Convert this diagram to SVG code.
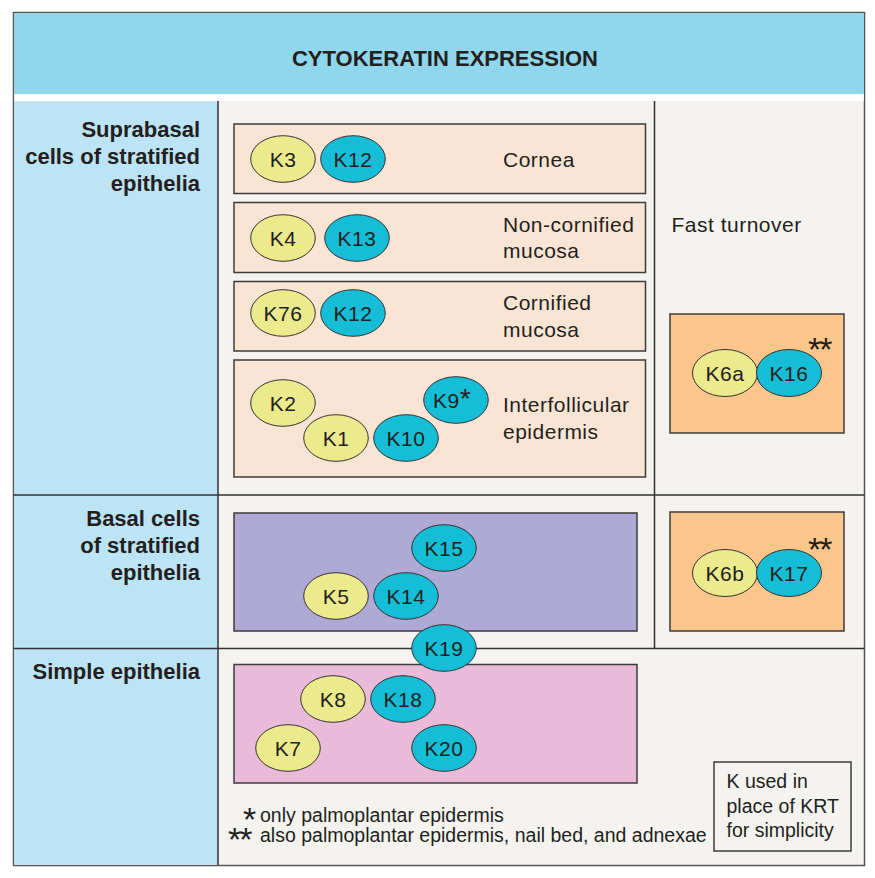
<svg xmlns="http://www.w3.org/2000/svg" width="875" height="878" viewBox="0 0 875 878">
<style>
text{font-family:"Liberation Sans",Arial,Helvetica,sans-serif;fill:#231f20}
.title{font-size:22px;font-weight:bold;text-anchor:middle}
.side{font-size:22px;font-weight:bold;text-anchor:end}
.lbl{font-size:21px;letter-spacing:0.5px}
.k{font-size:21px;letter-spacing:0.5px;text-anchor:middle}
.note{font-size:19.5px}
.star{font-size:34px;letter-spacing:-2px}
.box{stroke:#3c3c3c;stroke-width:1.5}
.peach{fill:#fae5d4}
.orange{fill:#fbc68b}
.purple{fill:#aeaad5}
.pink{fill:#e9bbd8}
.y{fill:#ebeb8e;stroke:#333;stroke-width:1}
.c{fill:#15bdd6;stroke:#333;stroke-width:1}
.grid{stroke:#333;stroke-width:1.5;fill:none}
</style>
<rect x="0" y="0" width="875" height="878" fill="#ffffff"/>
<g id="frame">
<rect x="13.5" y="12.5" width="851" height="853" fill="#f4f3ef" stroke="#555" stroke-width="1.5"/>
<rect x="14.2" y="13.2" width="849.6" height="81" fill="#8fd7ec"/>
<rect x="14.2" y="94.2" width="849.6" height="7" fill="#ffffff"/>
<rect x="14.2" y="101.2" width="203.8" height="763.6" fill="#bde4f4"/>
</g>
<g id="title"><text class="title" x="445" y="66">CYTOKERATIN EXPRESSION</text></g>
<g id="grid-lines" class="grid">
<line x1="218" y1="101" x2="218" y2="865"/>
<line x1="654.5" y1="101" x2="654.5" y2="648.5"/>
<line x1="13.5" y1="495" x2="864.5" y2="495"/>
<line x1="13.5" y1="648.5" x2="864.5" y2="648.5"/>
</g>
<g id="row-labels">
<text class="side" x="200" y="137">Suprabasal</text>
<text class="side" x="200" y="164">cells of stratified</text>
<text class="side" x="200" y="191">epithelia</text>
<text class="side" x="200" y="526">Basal cells</text>
<text class="side" x="200" y="553">of stratified</text>
<text class="side" x="200" y="580">epithelia</text>
<text class="side" x="200" y="679">Simple epithelia</text>
</g>
<g id="cornea">
<rect class="box peach" x="234" y="124" width="411.5" height="69.5"/>
<ellipse class="y" cx="283" cy="159" rx="32.3" ry="23.3"/><text class="k" x="283" y="166.5">K3</text>
<ellipse class="c" cx="353" cy="159" rx="32.3" ry="23.3"/><text class="k" x="353" y="166.5">K12</text>
<text class="lbl" x="503" y="167">Cornea</text>
</g>
<g id="non-cornified-mucosa">
<rect class="box peach" x="234" y="202.5" width="411.5" height="70"/>
<ellipse class="y" cx="283" cy="238" rx="32.3" ry="23.3"/><text class="k" x="283" y="245.5">K4</text>
<ellipse class="c" cx="357" cy="238" rx="32.3" ry="23.3"/><text class="k" x="357" y="245.5">K13</text>
<text class="lbl" x="503" y="232">Non-cornified</text>
<text class="lbl" x="503" y="258">mucosa</text>
</g>
<g id="cornified-mucosa">
<rect class="box peach" x="234" y="281.5" width="411.5" height="69.5"/>
<ellipse class="y" cx="283" cy="313" rx="32.3" ry="23.3"/><text class="k" x="283" y="320.5">K76</text>
<ellipse class="c" cx="353" cy="313" rx="32.3" ry="23.3"/><text class="k" x="353" y="320.5">K12</text>
<text class="lbl" x="503" y="310">Cornified</text>
<text class="lbl" x="503" y="336.5">mucosa</text>
</g>
<g id="interfollicular-epidermis">
<rect class="box peach" x="234" y="360" width="411.5" height="117"/>
<ellipse class="y" cx="283" cy="403" rx="32.3" ry="23.3"/><text class="k" x="283" y="410.5">K2</text>
<ellipse class="y" cx="336" cy="438" rx="32.3" ry="23.3"/><text class="k" x="336" y="445.5">K1</text>
<ellipse class="c" cx="406" cy="438" rx="32.3" ry="23.3"/><text class="k" x="406" y="445.5">K10</text>
<ellipse class="c" cx="456" cy="400" rx="32.3" ry="23.3"/><text class="k" x="452" y="407.5">K9<tspan style="font-size:28px">*</tspan></text>
<text class="lbl" x="503" y="412">Interfollicular</text>
<text class="lbl" x="503" y="438.5">epidermis</text>
</g>
<g id="fast-turnover">
<text class="lbl" x="671.5" y="231.5">Fast turnover</text>
</g>
<g id="k6a-k16">
<rect class="box orange" x="670" y="314" width="174" height="119"/>
<ellipse class="y" cx="725" cy="373" rx="32.5" ry="23.5"/><text class="k" x="725" y="380.5">K6a</text>
<ellipse class="c" cx="789" cy="373" rx="32.5" ry="23.5"/><text class="k" x="789" y="380.5">K16</text>
<text class="star" x="808" y="361">**</text>
</g>
<g id="k6b-k17">
<rect class="box orange" x="670" y="512" width="174" height="119"/>
<ellipse class="y" cx="725" cy="573" rx="32.5" ry="23.5"/><text class="k" x="725" y="580.5">K6b</text>
<ellipse class="c" cx="789" cy="573" rx="32.5" ry="23.5"/><text class="k" x="789" y="580.5">K17</text>
<text class="star" x="808" y="561">**</text>
</g>
<g id="basal">
<rect class="box purple" x="234" y="513" width="403" height="118"/>
<ellipse class="c" cx="444" cy="548" rx="32.3" ry="23.3"/><text class="k" x="444" y="555.5">K15</text>
<ellipse class="y" cx="336" cy="596" rx="32.3" ry="23.3"/><text class="k" x="336" y="603.5">K5</text>
<ellipse class="c" cx="406" cy="596" rx="32.3" ry="23.3"/><text class="k" x="406" y="603.5">K14</text>
</g>
<g id="simple">
<rect class="box pink" x="234" y="664.5" width="403" height="118.5"/>
<ellipse class="y" cx="333" cy="699" rx="32.3" ry="23.3"/><text class="k" x="333" y="706.5">K8</text>
<ellipse class="c" cx="403" cy="699" rx="32.3" ry="23.3"/><text class="k" x="403" y="706.5">K18</text>
<ellipse class="y" cx="288" cy="748" rx="32.3" ry="23.3"/><text class="k" x="288" y="755.5">K7</text>
<ellipse class="c" cx="444" cy="748" rx="32.3" ry="23.3"/><text class="k" x="444" y="755.5">K20</text>
</g>
<g id="k19">
<ellipse class="c" cx="444" cy="648" rx="32.3" ry="23.3"/><text class="k" x="444" y="655.5">K19</text>
</g>
<g id="footnotes">
<text class="note"><tspan class="star" x="243" y="831">*</tspan><tspan x="260" y="822">only palmoplantar epidermis</tspan><tspan class="star" x="228" y="851">**</tspan><tspan x="260" y="842">also palmoplantar epidermis, nail bed, and adnexae</tspan></text>
</g>
<g id="note-box">
<rect x="714" y="762" width="137" height="89" fill="#f4f3ef" stroke="#3c3c3c" stroke-width="1.5"/>
<text class="note" x="726.5" y="788">K used in</text>
<text class="note" x="726.5" y="813">place of KRT</text>
<text class="note" x="726.5" y="837">for simplicity</text>
</g>
</svg>
